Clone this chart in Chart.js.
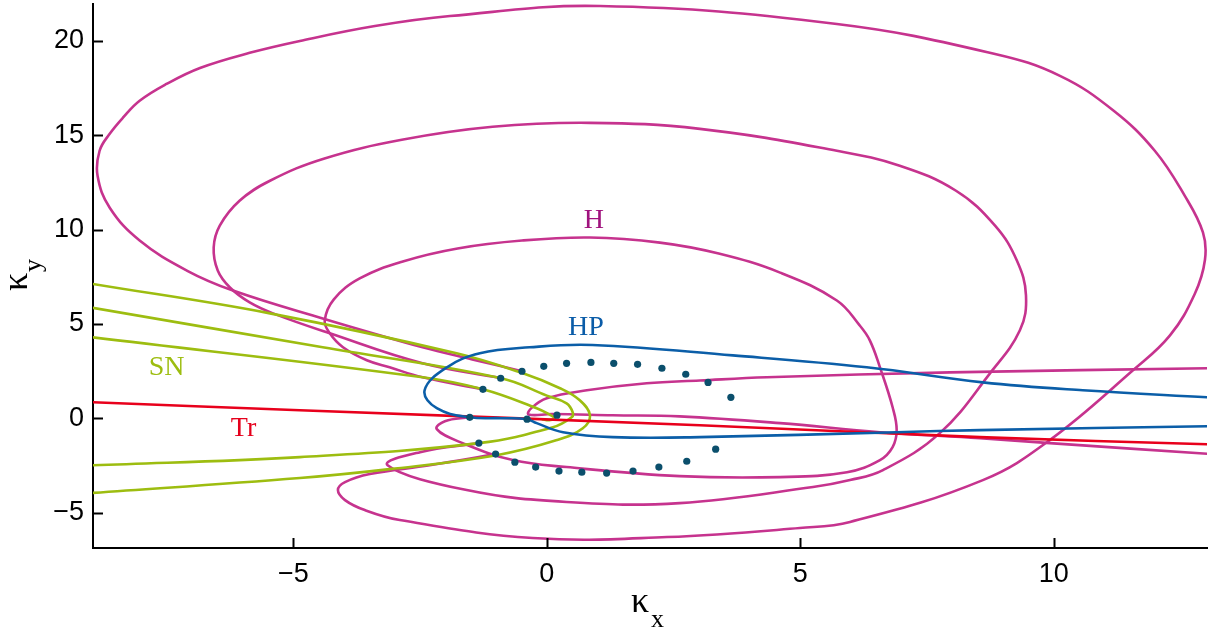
<!DOCTYPE html>
<html>
<head>
<meta charset="utf-8">
<script src="https://cdn.jsdelivr.net/npm/chart.js@4.4.1/dist/chart.umd.min.js"></script>
<style>
  html, body { margin: 0; padding: 0; background: #fff; }
</style>
</head>
<body>
<canvas id="chart" width="1217" height="632"></canvas>
<script>
// Axis ticks
const xTicks = [-5, 0, 5, 10];
const yTicks = [-5, 0, 5, 10, 15, 20];

// Hopf curves (H)
const h1X = [-0.49, -1.47, -2.45, -4.42, -6.19, -7.1, -8.03, -8.62, -8.86, -8.82, -8.62, -8.36, -8.03, -7.5, -6.84, -5.86, -4.87, -3.39, -1.91, 1.05, 5.72, 8.84, 10.12, 11.18, 11.99, 12.58, 12.94, 12.98, 12.78, 12.29, 11.56, 9.92, 8.6, 5.98, 4.99, 2.37, -0.28, -2.9, -3.59, -3.98, -4.12, -3.98, -3.49, -2.31, -1.0];
const h1Y = [2.49, 3.12, 3.76, 5.29, 6.77, 7.83, 9.42, 11.16, 12.85, 14.18, 15.08, 15.93, 16.83, 17.72, 18.57, 19.37, 20.0, 20.79, 21.32, 21.85, 20.9, 19.31, 18.15, 16.3, 14.18, 11.8, 9.85, 8.4, 6.6, 4.39, 2.54, -1.16, -3.28, -5.5, -5.82, -6.3, -6.35, -5.4, -4.87, -4.34, -3.81, -3.39, -2.96, -2.49, -1.9];

const h2X = [-0.9, -2.45, -4.28, -5.4, -5.86, -6.25, -6.49, -6.57, -6.45, -6.06, -5.46, -4.4, -2.86, -1.07, 0.85, 3.02, 5.72, 6.96, 8.07, 8.84, 9.27, 9.45, 9.33, 8.74, 7.75, 6.63, 5.98, 5.25, 2.62, 0.39, -1.58, -3.14, -2.5, -1.34];
const h2Y = [2.12, 2.91, 4.5, 5.56, 6.14, 6.93, 7.83, 9.05, 10.21, 11.53, 12.59, 13.76, 14.76, 15.45, 15.66, 15.34, 14.18, 13.39, 12.06, 10.21, 8.36, 6.51, 4.66, 2.38, -0.79, -2.75, -3.28, -3.65, -4.5, -4.44, -3.81, -2.49, -1.8, -1.32];

const h3X = [-1.26, -2.45, -3.1, -3.55, -4.02, -4.28, -4.38, -4.2, -3.69, -2.84, -1.76, -0.49, 0.85, 2.23, 3.39, 4.6, 5.72, 6.17, 6.37, 6.57, 6.82, 6.9, 6.82, 6.57, 5.92, 4.6, 2.62, 0.39, -0.67, -1.66, -2.17, -2.01, -1.52];
const h3Y = [1.53, 2.17, 2.7, 3.07, 3.76, 4.5, 5.18, 6.3, 7.41, 8.31, 9.0, 9.42, 9.58, 9.31, 8.73, 7.72, 6.24, 4.92, 4.13, 2.7, 0.58, -0.63, -1.53, -2.22, -2.86, -3.12, -3.07, -2.59, -2.22, -1.32, -0.58, -0.16, 0.05];

const h4X = [13.1, 7.95, 4.34, 3.02, 1.97, 0.79, 0, -0.3, -0.36, 0.1, 1.3, 2.62, 4.6, 6.57, 8.54, 9.92, 13.1];
const h4Y = [2.65, 2.43, 2.17, 2.0, 1.85, 1.48, 1.06, 0.55, 0.2, 0.22, 0.16, 0.1, -0.26, -0.74, -1.06, -1.32, -1.9];

// Saddle-node curves (SN)
const sn1X = [-9, -5.46, -1.78, -0.47, 0.26, 0.65, 0.85, 0.71, 0.2, -0.99, -3.1, -4.87, -9];
const sn1Y = [7.14, 5.56, 3.44, 2.38, 1.59, 0.95, 0.16, -0.53, -1.16, -1.96, -2.7, -3.17, -3.97];
const sn2X = [-9, -4.42, -0.9, 0, 0.39, 0.51, 0.49, 0.12, -1.34, -4.87, -9];
const sn2Y = [5.87, 3.76, 2.12, 1.2, 0.79, 0.32, 0.05, -0.48, -1.32, -2.06, -2.5];
const sn3X = [-9, -2.45, -1.26, -0.2, 0.05, 0.15, 0.05, -0.1];
const sn3Y = [4.3, 2.17, 1.53, 0.53, 0.2, 0.0, -0.1, -0.05];

// Transcritical (Tr)
const trX = [-9, -4.87, 3.02, 8.54, 13.1];
const trY = [0.85, 0.42, -0.37, -1.0, -1.39];

// HP curve
const hpX = [13.1, 10.57, 8.6, 6.31, 3.67, 0.9, -0.34, -1.32, -1.97, -2.41, -2.17, -1.52, -0.9, -0.39, -0.2, 0.32, 1.3, 3.02, 6.9, 8.54, 13.1];
const hpY = [1.1, 1.48, 1.9, 2.7, 3.33, 3.88, 3.76, 3.44, 2.7, 1.48, 0.53, 0.05, 0.0, -0.05, -0.26, -0.74, -1.0, -1.0, -0.74, -0.63, -0.42];

// Bogdanov-Takens points
const btX = [3.63, 3.18, 2.74, 2.27, 1.79, 1.32, 0.87, 0.39, -0.06, -0.49, -0.91, -1.26, -1.52, -1.34, -1.01, -0.63, -0.22, 0.24, 0.69, 1.18, 1.70, 2.21, 2.76, 3.33, -0.39, 0.20];
const btY = [1.11, 1.90, 2.33, 2.65, 2.86, 2.91, 2.96, 2.91, 2.75, 2.49, 2.12, 1.53, 0.05, -1.32, -1.90, -2.33, -2.59, -2.80, -2.86, -2.91, -2.80, -2.59, -2.28, -1.64, -0.05, 0.16];

// Curve labels
const curveLabels = [
  { text: 'H', x: 0.93, y: 10.48, color: '#a0137e' },
  { text: 'HP', x: 0.77, y: 4.81, color: '#0a5ca8' },
  { text: 'SN', x: -7.5, y: 2.7, color: '#9dbd10' },
  { text: 'Tr', x: -5.98, y: -0.53, color: '#e5001c' }
];

const MAGENTA = '#c6338e';
const GREEN = '#9dbd10';
const RED = '#e8001c';
const BLUE = '#0b5ea8';
const DOT = '#0b4f6c';

function pts(xs, ys) {
  return xs.map((v, i) => ({ x: v, y: ys[i] }));
}

function curve(xs, ys, color, order) {
  return {
    data: pts(xs, ys),
    showLine: true,
    borderColor: color,
    borderWidth: 2.6,
    pointRadius: 0,
    tension: 0.4,
    fill: false,
    order: order
  };
}

function fmt(v) {
  return v < 0 ? '\u2212' + Math.abs(v) : String(v);
}

function noPad(s) {
  s.paddingTop = 0;
  s.paddingBottom = 0;
  s.paddingLeft = 0;
  s.paddingRight = 0;
}

// Inward ticks, curve labels and axis titles
const overlay = {
  id: 'overlay',
  afterDraw(chart) {
    const { ctx, chartArea, scales: { x, y } } = chart;
    ctx.save();
    ctx.strokeStyle = '#000';
    ctx.lineWidth = 2;
    xTicks.forEach(v => {
      const px = Math.round(x.getPixelForValue(v)) + 0.5;
      ctx.beginPath();
      ctx.moveTo(px, chartArea.bottom);
      ctx.lineTo(px, chartArea.bottom - 10);
      ctx.stroke();
    });
    yTicks.forEach(v => {
      const py = Math.round(y.getPixelForValue(v)) + 0.5;
      ctx.beginPath();
      ctx.moveTo(chartArea.left, py);
      ctx.lineTo(chartArea.left + 10, py);
      ctx.stroke();
    });

    ctx.font = '28px "Liberation Serif"';
    ctx.textAlign = 'center';
    ctx.textBaseline = 'middle';
    curveLabels.forEach(l => {
      ctx.fillStyle = l.color;
      ctx.fillText(l.text, x.getPixelForValue(l.x), y.getPixelForValue(l.y));
    });

    // x title
    ctx.fillStyle = '#000';
    ctx.textAlign = 'left';
    ctx.textBaseline = 'alphabetic';
    ctx.font = '36px "Liberation Serif"';
    ctx.fillText('\u03ba', 631, 612);
    ctx.font = '26px "Liberation Serif"';
    ctx.fillText('x', 651, 627);

    // y title
    ctx.translate(27, 291);
    ctx.rotate(-Math.PI / 2);
    ctx.font = '36px "Liberation Serif"';
    ctx.fillText('\u03ba', 0, 0);
    ctx.font = '26px "Liberation Serif"';
    ctx.fillText('y', 19, 14);
    ctx.restore();
  }
};

new Chart(document.getElementById('chart'), {
  type: 'scatter',
  data: {
    datasets: [
      curve(h1X, h1Y, MAGENTA, 5),
      curve(h2X, h2Y, MAGENTA, 5),
      curve(h3X, h3Y, MAGENTA, 5),
      curve(h4X, h4Y, MAGENTA, 5),
      curve(sn1X, sn1Y, GREEN, 4),
      curve(sn2X, sn2Y, GREEN, 4),
      curve(sn3X, sn3Y, GREEN, 4),
      curve(trX, trY, RED, 3),
      curve(hpX, hpY, BLUE, 2),
      {
        data: pts(btX, btY),
        showLine: false,
        pointRadius: 3.6,
        pointBackgroundColor: DOT,
        pointBorderWidth: 0,
        order: 0
      }
    ]
  },
  options: {
    responsive: false,
    animation: false,
    layout: { padding: { top: 3, right: 10, left: 0, bottom: 0 } },
    plugins: {
      legend: { display: false },
      tooltip: { enabled: false }
    },
    scales: {
      x: {
        type: 'linear',
        min: -8.95,
        max: 13.02,
        afterFit: s => { s.height = 84; noPad(s); },
        afterBuildTicks: s => { s.ticks = xTicks.map(v => ({ value: v })); },
        grid: { drawOnChartArea: false, drawTicks: false },
        border: { display: true, color: '#000', width: 2 },
        ticks: {
          padding: 10,
          color: '#000',
          font: { family: 'Liberation Sans', size: 27 },
          callback: v => fmt(v)
        }
      },
      y: {
        type: 'linear',
        min: -6.88,
        max: 21.96,
        afterFit: s => { s.width = 93; noPad(s); },
        afterBuildTicks: s => { s.ticks = yTicks.map(v => ({ value: v })); },
        grid: { drawOnChartArea: false, drawTicks: false },
        border: { display: true, color: '#000', width: 2 },
        ticks: {
          padding: 9,
          color: '#000',
          font: { family: 'Liberation Sans', size: 27 },
          callback: v => fmt(v)
        }
      }
    }
  },
  plugins: [overlay]
});
</script>
</body>
</html>
